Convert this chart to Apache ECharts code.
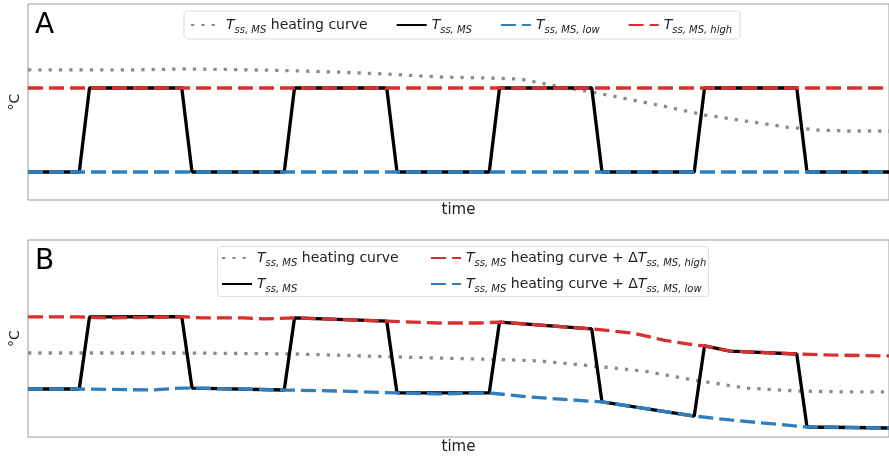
<!DOCTYPE html>
<html>
<head>
<meta charset="utf-8">
<script src="https://cdn.jsdelivr.net/npm/echarts@6/dist/echarts.min.js"></script>
<style>
    html, body { width: 100%; height: 100%; margin: 0; background: #fff; }
    #main { width: 889px; height: 456px; }
</style>
</head>
<body>
<div id="main"></div>
<script>
// panel A (time, °C)
var heatA = [[0,9.29],[10,9.29],[15,9.36],[20,9.32],[25,9.25],[30,9.14],[35,9.0],[40,8.79],[45,8.71],[48,8.64],[50,8.36],[52,8.07],[55,7.71],[58,7.29],[62,6.71],[66,6.07],[70,5.64],[74,5.21],[77,5.0],[80,4.93],[84,4.93]];
var tssA = [[0,2],[5,2],[6,8],[15,8],[16,2],[25,2],[26,8],[35,8],[36,2],[45,2],[46,8],[55,8],[56,2],[65,2],[66,8],[75,8],[76,2],[84,2]];
var lowA = [[0,2],[84,2]];
var highA = [[0,8],[84,8]];

// panel B
var heatB = [[0,5.97],[15,5.97],[26,5.90],[40,5.61],[46,5.51],[50,5.40],[56,4.98],[60,4.69],[65,4.05],[70,3.48],[75,3.27],[80,3.20],[84,3.20]];
var tssB = [[0,3.41],[5,3.41],[6,8.53],[15,8.56],[16,3.48],[25,3.34],[26,8.46],[35,8.24],[36,3.13],[45,3.13],[46,8.17],[55,7.68],[56,2.49],[65,1.49],[66,6.47],[68.5,6.11],[75,5.90],[76,0.71],[84,0.64]];
var highB = [[0,8.53],[5,8.53],[8,8.46],[14,8.53],[15,8.56],[17,8.46],[21,8.46],[23,8.39],[26,8.46],[35,8.24],[40,8.10],[44,8.10],[46,8.17],[55,7.68],[59,7.39],[62,6.89],[65,6.54],[66,6.47],[68.5,6.11],[75,5.90],[78,5.83],[84,5.76]];
var lowB = [[0,3.41],[5,3.41],[12,3.34],[15,3.48],[16,3.48],[25,3.34],[30,3.27],[36,3.13],[40,3.06],[45,3.13],[49,2.84],[56,2.49],[65,1.49],[68.5,1.21],[76,0.71],[84,0.64]];

var labels = {
    heatA: '{t|T}{s|ss, MS} heating curve',
    tssA: '{t|T}{s|ss, MS}',
    lowA: '{t|T}{s|ss, MS, low}',
    highA: '{t|T}{s|ss, MS, high}',
    heatB: '{t|T}{s|ss, MS} heating curve',
    tssB: '{t|T}{s|ss, MS}',
    highB: '{t|T}{s|ss, MS} heating curve + Δ{t|T}{s|ss, MS, high}',
    lowB: '{t|T}{s|ss, MS} heating curve + Δ{t|T}{s|ss, MS, low}'
};

var FONT = 'DejaVu Sans';
var GRAY = '#8c8c8c', BLACK = '#000', BLUE = '#2f7fbf', RED = '#d8302f';

function line(name, data, color, dash, idx) {
    return {
        name: name, type: 'line', data: data,
        xAxisIndex: idx, yAxisIndex: idx,
        symbol: 'none', animation: false,
        lineStyle: { color: color, width: 3.3, type: dash, cap: 'butt' },
        itemStyle: { color: color }
    };
}

var textSt = {
    fontFamily: FONT, fontSize: 14, color: '#222', lineHeight: 20,
    rich: {
        t: { fontFamily: FONT, fontStyle: 'italic', fontSize: 14, color: '#222', lineHeight: 20 },
        s: { fontFamily: FONT, fontStyle: 'italic', fontSize: 10, color: '#222', lineHeight: 10, verticalAlign: 'bottom' }
    }
};
// hide the round marker echarts puts on line legend icons
var noMarker = { color: 'rgba(0,0,0,0)', borderColor: 'rgba(0,0,0,0)', borderWidth: 0, opacity: 0 };

function fmt(n) { return labels[n]; }

var dotted = [3.3, 7];
var dashed = [15, 6];

var chart = echarts.init(document.getElementById('main'));
var option = {
    backgroundColor: '#fff',
    animation: false,
    grid: [
        { left: 27, top: 4, width: 874, height: 196, show: true, borderColor: '#9a9a9a', borderWidth: 1 },
        { left: 27, top: 240, width: 874, height: 197, show: true, borderColor: '#9a9a9a', borderWidth: 1 }
    ],
    xAxis: [0, 1].map(function (i) {
        return {
            type: 'value', gridIndex: i, min: 0, max: 84,
            name: 'time', nameLocation: 'middle', nameGap: 3,
            nameTextStyle: { fontFamily: FONT, fontSize: 15, color: '#222' },
            axisLine: { show: false }, axisTick: { show: false },
            axisLabel: { show: false }, splitLine: { show: false }
        };
    }),
    yAxis: [0, 1].map(function (i) {
        return {
            type: 'value', gridIndex: i, min: 0, max: 14,
            name: '°C', nameLocation: 'middle', nameGap: 6, nameRotate: 90,
            nameTextStyle: { fontFamily: FONT, fontSize: 14, color: '#222' },
            axisLine: { show: false }, axisTick: { show: false },
            axisLabel: { show: false }, splitLine: { show: false }
        };
    }),
    legend: [
        {
            data: ['heatA', 'tssA', 'lowA', 'highA'],
            left: 184, top: 11, orient: 'horizontal',
            itemWidth: 30, itemHeight: 14, itemGap: 28,
            padding: [4, 8, 4, 6],
            backgroundColor: '#fff', borderColor: '#dddddd', borderWidth: 1, borderRadius: 3,
            itemStyle: noMarker,
            formatter: fmt, textStyle: textSt, selectedMode: false
        },
        {
            data: ['heatB', 'tssB'],
            left: 221, top: 248, orient: 'vertical',
            itemWidth: 30, itemHeight: 14, itemGap: 6, padding: 0,
            itemStyle: noMarker,
            formatter: fmt, textStyle: textSt, selectedMode: false
        },
        {
            data: ['highB', 'lowB'],
            left: 430, top: 248, orient: 'vertical',
            itemWidth: 30, itemHeight: 14, itemGap: 6, padding: 0,
            itemStyle: noMarker,
            formatter: fmt, textStyle: textSt, selectedMode: false
        }
    ],
    graphic: [
        { type: 'rect', left: 217, top: 246, z: 3,
          shape: { width: 491, height: 50, r: 3 },
          style: { fill: '#fff', stroke: '#dddddd', lineWidth: 1 } },
        { type: 'text', left: 35, top: 12, z: 5,
          style: { text: 'A', font: '28px "DejaVu Sans"', fill: '#000' } },
        { type: 'text', left: 35, top: 248, z: 5,
          style: { text: 'B', font: '28px "DejaVu Sans"', fill: '#000' } }
    ],
    series: [
        line('heatA', heatA, GRAY, dotted, 0),
        line('tssA', tssA, BLACK, 'solid', 0),
        line('lowA', lowA, BLUE, dashed, 0),
        line('highA', highA, RED, dashed, 0),
        line('heatB', heatB, GRAY, dotted, 1),
        line('tssB', tssB, BLACK, 'solid', 1),
        line('lowB', lowB, BLUE, dashed, 1),
        line('highB', highB, RED, dashed, 1)
    ]
};
chart.setOption(option);
</script>
</body>
</html>
